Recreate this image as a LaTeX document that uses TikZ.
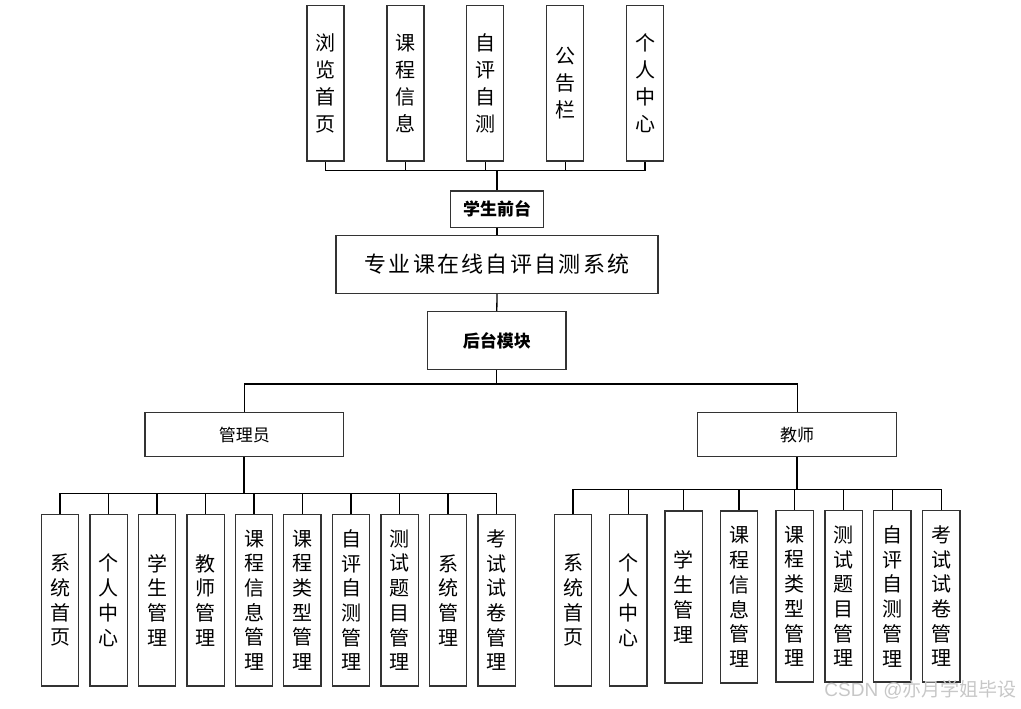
\documentclass[tikz,border=0pt]{standalone}
\usepackage{fontspec}
\setmainfont{Noto Sans CJK SC}
\newfontfamily\latinsans{Liberation Sans}
\newcommand{\ks}{\kern2.3pt}
\begin{document}
\begin{tikzpicture}[x=1pt,y=-1pt,
  box/.style={draw=black!80,line width=1.4pt,fill=white,inner sep=0pt,align=center},
  topleaf/.style={box,minimum width=37pt,minimum height=155.5pt,font=\fontsize{20}{27}\selectfont},
  leaf/.style={box,minimum width=37.4pt,minimum height=171.7pt,font=\fontsize{20}{24.7}\selectfont},
  label/.style={box,font=\fontsize{17}{20}\selectfont},
  conn/.style={line width=1.3pt,black},
  trunk/.style={line width=2.2pt,black}]
\useasboundingbox (0,0) rectangle (1021,709);
% top leaves
\node[topleaf] (t1) at (325.3,83.3) {浏\\览\\首\\页};
\node[topleaf] (t2) at (405.3,83.3) {课\\程\\信\\息};
\node[topleaf] (t3) at (485.2,83.3) {自\\评\\自\\测};
\node[topleaf] (t4) at (565.2,83.3) {公\\告\\栏};
\node[topleaf] (t5) at (645,83.3) {个\\人\\中\\心};
% center column
\node[label,minimum width=92.6pt,minimum height=36.7pt,font=\fontsize{17}{20}\selectfont\bfseries] (front) at (497,209.3) {学生前台};
\node[box,minimum width=322pt,minimum height=57.6pt,font=\fontsize{22}{26}\selectfont] (main) at (497,264.5) {专\ks 业\ks 课\ks 在\ks 线\ks 自\ks 评\ks 自\ks 测\ks 系\ks 统};
\node[label,minimum width=138.3pt,minimum height=57.6pt,font=\fontsize{17}{20}\selectfont\bfseries] (back) at (496.8,340.5) {后台模块};
\node[label,minimum width=198.7pt,minimum height=44pt] (admin) at (244.3,434.7) {管理员};
\node[label,minimum width=199pt,minimum height=44pt] (teacher) at (797.2,434.7) {教师};
% admin leaves
\node[leaf] (a1) at (60,600.2) {系\\统\\首\\页};
\node[leaf] (a2) at (108.5,600.2) {个\\人\\中\\心};
\node[leaf] (a3) at (157,600.2) {学\\生\\管\\理};
\node[leaf] (a4) at (205.7,600.2) {教\\师\\管\\理};
\node[leaf] (a5) at (254,600.2) {课\\程\\信\\息\\管\\理};
\node[leaf] (a6) at (302.3,600.2) {课\\程\\类\\型\\管\\理};
\node[leaf] (a7) at (351,600.2) {自\\评\\自\\测\\管\\理};
\node[leaf] (a8) at (399.5,600.2) {测\\试\\题\\目\\管\\理};
\node[leaf] (a9) at (448,600.2) {系\\统\\管\\理};
\node[leaf] (a10) at (496.8,600.2) {考\\试\\试\\卷\\管\\理};
% teacher leaves
\node[leaf] (b1) at (573,600.2) {系\\统\\首\\页};
\node[leaf] (b2) at (628.3,600.2) {个\\人\\中\\心};
\node[leaf] (b3) at (683.7,597) {学\\生\\管\\理};
\node[leaf] (b4) at (739,597) {课\\程\\信\\息\\管\\理};
\node[leaf] (b5) at (794.5,596.3) {课\\程\\类\\型\\管\\理};
\node[leaf] (b6) at (843.5,596.3) {测\\试\\题\\目\\管\\理};
\node[leaf] (b7) at (892.3,596.3) {自\\评\\自\\测\\管\\理};
\node[leaf] (b8) at (941.2,596.3) {考\\试\\试\\卷\\管\\理};
% connectors: front
\draw[trunk] (front.north) -- ++(0,-19.5) coordinate (fb);
\foreach \n in {t1,t2,t3,t4,t5} \draw[conn] (\n.south) |- (fb);
\draw[conn] (front.south) -- (main.north);
\draw[conn] (main.south) -- (back.north);
\draw[conn] (back.south) -- ++(0,14) coordinate (bb);
\draw[conn] (admin.north) |- (bb);
\draw[conn] (teacher.north) |- (bb);
% admin branch
\draw[trunk] (admin.south) -- ++(0,36) coordinate (ab);
\foreach \n in {a1,a2,a3,a4,a5,a6,a7,a8,a9,a10} \draw[conn] (\n.north) |- (ab);
% teacher branch
\draw[trunk] (teacher.south) -- ++(0,32.3) coordinate (tb);
\foreach \n in {b1,b2,b3,b4,b5,b6,b7,b8} \draw[conn] (\n.north) |- (tb);
% watermark
\node[anchor=east,inner sep=0pt,text=black!22,font=\fontsize{19}{22}\selectfont] (wm) at (1017,690) {{\latinsans CSDN @}亦月学姐毕设};
\end{tikzpicture}
\end{document}
